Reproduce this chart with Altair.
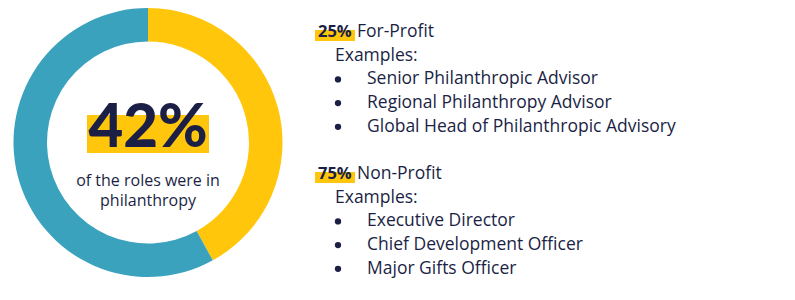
import altair as alt
import pandas as pd

# ---- data ----
segments = ["Philanthropy", "Other"]
shares = [42, 58]
seg_colors = ["#FFC60B", "#3BA2BE"]

big_value = "42%"
sub_lines = ["of the roles were in", "philanthropy"]

group_pcts = ["25%", "75%"]
group_names = ["For-Profit", "Non-Profit"]
group_items = [
    ["Senior Philanthropic Advisor", "Regional Philanthropy Advisor", "Global Head of Philanthropic Advisory"],
    ["Executive Director", "Chief Development Officer", "Major Gifts Officer"],
]

NAVY = "#1B1F45"
BIG_FONT = "Lato"
FONT = "Open Sans"

W, H = 795, 300
CX, CY = 148, 142.5

donut_df = pd.DataFrame({"segment": segments, "share": shares, "order": list(range(len(segments)))})

donut = alt.Chart(donut_df).mark_arc(radius=134.5, radius2=101, stroke=None).encode(
    theta=alt.Theta("share:Q", stack=True),
    order=alt.Order("order:Q"),
    color=alt.Color("segment:N", scale=alt.Scale(domain=segments, range=seg_colors), legend=None),
    x=alt.value(CX), y=alt.value(CY),
)

layers = [donut]

# highlight behind big number
hl = pd.DataFrame({"t": [big_value]})
layers.append(alt.Chart(hl).mark_rect(color="#FFC60B").encode(
    x=alt.value(87), x2=alt.value(209), y=alt.value(115), y2=alt.value(153)))
layers.append(alt.Chart(hl).mark_text(font=BIG_FONT, fontSize=60, fontWeight=900, color=NAVY,
                                       align="center", baseline="alphabetic").encode(
    text="t:N", x=alt.value(CX), y=alt.value(147)))

for i, line in enumerate(sub_lines):
    layers.append(alt.Chart(pd.DataFrame({"t": [line]})).mark_text(
        font=FONT, fontSize=16, color=NAVY, align="center", baseline="alphabetic").encode(
        text="t:N", x=alt.value(CX), y=alt.value(186 + i * 20)))

# right-hand lists
group_top = [37, 179]
LINE = 23.7
for g in range(len(group_pcts)):
    base = group_top[g]
    gdf = pd.DataFrame({"p": [group_pcts[g]], "n": [group_names[g]]})
    layers.append(alt.Chart(gdf).mark_rect(color="#FFC60B").encode(
        x=alt.value(315), x2=alt.value(355), y=alt.value(base - 7), y2=alt.value(base + 4)))
    layers.append(alt.Chart(gdf).mark_text(font=FONT, fontSize=16.5, fontWeight="bold", color=NAVY,
                                           align="left", baseline="alphabetic").encode(
        text="p:N", x=alt.value(318), y=alt.value(base)))
    layers.append(alt.Chart(gdf).mark_text(font=FONT, fontSize=17.5, color=NAVY,
                                           align="left", baseline="alphabetic").encode(
        text="n:N", x=alt.value(357), y=alt.value(base)))
    layers.append(alt.Chart(pd.DataFrame({"t": ["Examples:"]})).mark_text(
        font=FONT, fontSize=17.5, color=NAVY, align="left", baseline="alphabetic").encode(
        text="t:N", x=alt.value(335), y=alt.value(base + LINE)))
    for j, item in enumerate(group_items[g]):
        yy = base + LINE * (j + 2)
        idf = pd.DataFrame({"t": [item]})
        layers.append(alt.Chart(idf).mark_point(filled=True, size=40, color=NAVY, opacity=1).encode(
            x=alt.value(338), y=alt.value(yy - 5)))
        layers.append(alt.Chart(idf).mark_text(font=FONT, fontSize=17.5, color=NAVY,
                                               align="left", baseline="alphabetic").encode(
            text="t:N", x=alt.value(367), y=alt.value(yy)))

chart = alt.layer(*layers).properties(
    width=W, height=H, padding=0, autosize=alt.AutoSizeParams(type="none"),
    background="white",
).configure_view(stroke=None)

chart.save("out.html", embed_options={"renderer": "svg", "actions": False})
